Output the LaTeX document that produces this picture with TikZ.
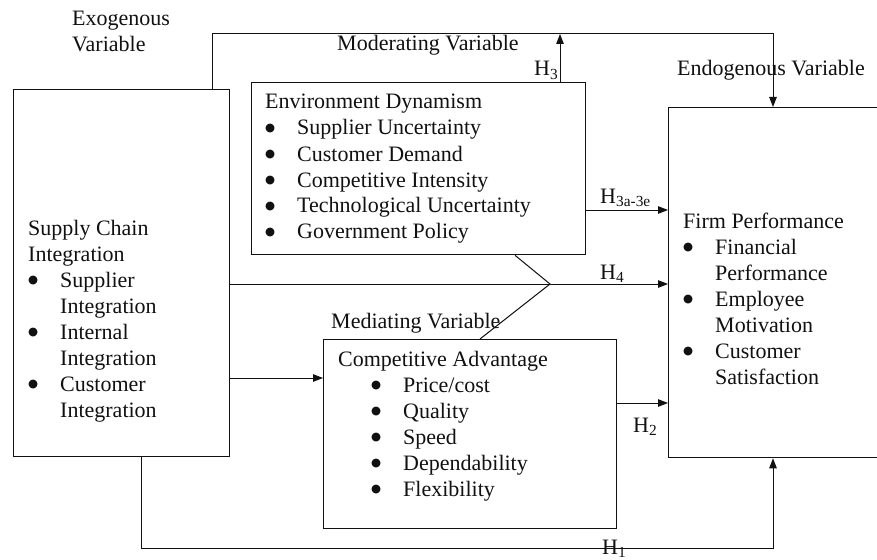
\documentclass[tikz,border=0pt]{standalone}
\usepackage{fontspec}
\setmainfont{Liberation Serif}
\newfontfamily\symfont{DejaVu Sans}
\usepackage{tikz}
\usepackage{xcolor}
\usetikzlibrary{arrows.meta,positioning,calc}
\definecolor{ink}{HTML}{111111}
\definecolor{paper}{HTML}{FFFFFF}

\tikzset{
  varbox/.style={draw=ink,line width=1.3pt,anchor=north west,inner sep=0pt},
  link/.style={draw=ink,line width=1pt},
  arr/.style={link,-{Triangle[length=10pt,width=7.5pt]}},
  lbl/.style={anchor=base west,inner sep=0pt,text=ink,
              font=\fontsize{22}{26}\selectfont},
}
\newcommand{\itm}{\makebox[32pt][l]{\raisebox{3.5pt}{\symfont\fontsize{11.5}{11.5}\selectfont ●}}}
\newcommand{\cont}{\hspace*{32pt}}

\begin{document}
\begin{tikzpicture}[x=1pt,y=-1pt]
  \useasboundingbox (0,0) rectangle (877,559);
  \fill[paper] (0,0) rectangle (877,559);

  \node[varbox,minimum width=216pt,minimum height=367pt] (sci)  at (13,89)  {};
  \node[varbox,minimum width=334pt,minimum height=172pt] (env)  at (251,82) {};
  \node[varbox,minimum width=293pt,minimum height=189pt] (cadv) at (323,339) {};
  \node[varbox,minimum width=212pt,minimum height=350pt] (firm) at (668,107) {};

  \node[lbl] (scitxt) at (28,235) {\begin{tabular}[t]{@{}l@{}}
      Supply Chain\\ Integration\\
      \itm Supplier\\ \cont Integration\\
      \itm Internal\\ \cont Integration\\
      \itm Customer\\ \cont Integration
    \end{tabular}};
  \node[lbl] (envtxt) at (265,109) {\begin{tabular}[t]{@{}l@{}}
      Environment Dynamism\\
      \itm Supplier Uncertainty\\
      \itm Customer Demand\\
      \itm Competitive Intensity\\
      \itm Technological Uncertainty\\
      \itm Government Policy
    \end{tabular}};
  \node[lbl] (cadvtxt) at (338,366) {\begin{tabular}[t]{@{}l@{}}
      Competitive Advantage\\
      \hspace*{33pt}\itm Price/cost\\
      \hspace*{33pt}\itm Quality\\
      \hspace*{33pt}\itm Speed\\
      \hspace*{33pt}\itm Dependability\\
      \hspace*{33pt}\itm Flexibility
    \end{tabular}};
  \node[lbl] (firmtxt) at (683,228) {\begin{tabular}[t]{@{}l@{}}
      Firm Performance\\
      \itm Financial\\ \cont Performance\\
      \itm Employee\\ \cont Motivation\\
      \itm Customer\\ \cont Satisfaction
    \end{tabular}};

  \node[lbl] (exo)  at (72,26)  {\begin{tabular}[t]{@{}l@{}}Exogenous\\ Variable\end{tabular}};
  \node[lbl] (mod)  at (337,51)  {Moderating Variable};
  \node[lbl] (endo) at (677,76)  {Endogenous Variable};
  \node[lbl] (med)  at (331,328) {Mediating Variable};

  \node[lbl] (hthree) at (534,76)  {H\textsubscript{3}};
  \node[lbl] (hthreeae) at (600,203) {H\textsubscript{3a-3e}};
  \node[lbl] (hfour) at (600,279) {H\textsubscript{4}};
  \node[lbl] (htwo)  at (633,432) {H\textsubscript{2}};
  \node[lbl] (hone)  at (602,554) {H\textsubscript{1}};

  \coordinate (apex) at (550,284);

  \draw[arr] ($(sci.north west)+(199,0)$) -- ++(0,-55) -| ($(firm.north west)+(105,0)$);
  \draw[arr] ($(env.north west)+(309,0)$) -- ++(0,-48);
  \draw[arr] (env.east |- 0,210) -- (firm.west |- 0,210);
  \draw[arr] (sci.east |- 0,284) -- (firm.west |- 0,284);
  \draw[link] (env.south -| 515,0) -- (apex) -- (cadv.north -| 480,0);
  \draw[arr] (sci.east |- 0,378) -- (cadv.west |- 0,378);
  \draw[arr] (cadv.east |- 0,403) -- (firm.west |- 0,403);
  \draw[arr] ($(sci.south west)+(128,0)$) -- ++(0,91) -| ($(firm.south west)+(105,0)$);
\end{tikzpicture}
\end{document}
